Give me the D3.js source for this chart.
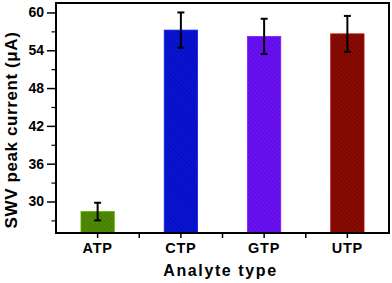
<!DOCTYPE html>
<html>
<head>
<meta charset="utf-8">
<script src="https://cdn.jsdelivr.net/npm/d3@7"></script>
<style>
  body { margin: 0; background: #fff; }
  text { font-family: Arial, "Liberation Sans", sans-serif; font-weight: bold; }
</style>
</head>
<body>
<svg id="chart" width="392" height="283"></svg>
<script>
// chart data
const categories = ["ATP", "CTP", "GTP", "UTP"];
const values = [28.4, 57.2, 56.2, 56.6];
const errors = [1.4, 2.8, 2.8, 2.85];
const yTicks = [30, 36, 42, 48, 54, 60];
const colors = ["#4e8a02", "#0a14d2", "#6a12f4", "#8a0c02"];
const hatch = ["#3a6e00", "#0008a0", "#4c00c8", "#5e0000"];

let margin = {top: 3, right: 3, bottom: 50, left: 56};
let width = 392 - margin.left - margin.right;
let height = 283 - margin.top - margin.bottom;

let svg = d3.select("#chart");

// hatch patterns for the bars
let defs = svg.append("defs");
categories.forEach((c, i) => {
    let p = defs.append("pattern")
        .attr("id", "hatch" + i)
        .attr("patternUnits", "userSpaceOnUse")
        .attr("width", 3).attr("height", 3)
        .attr("patternTransform", "rotate(-45)");
    p.append("rect").attr("width", 3).attr("height", 3).attr("fill", colors[i]);
    p.append("line").attr("x1", 0).attr("y1", 0).attr("x2", 0).attr("y2", 3)
        .attr("stroke", hatch[i]).attr("stroke-width", 1);
});

let chart = svg.append("g")
    .attr("transform", "translate(" + margin.left + "," + margin.top + ")");

let x = d3.scaleBand()
    .domain(categories)
    .range([0, width])
    .paddingInner(0.6)
    .paddingOuter(0.3);

let xBand = d3.scaleBand().domain(categories).range([0, width]);

let y = d3.scaleLinear()
    .domain([25, 61.5])
    .range([height, 0]);

// bars
chart.selectAll(".bar")
    .data(categories)
    .enter().append("rect")
    .attr("x", d => x(d))
    .attr("width", x.bandwidth())
    .attr("y", (d, i) => y(values[i]))
    .attr("height", (d, i) => height - y(values[i]))
    .attr("fill", (d, i) => "url(#hatch" + i + ")")
    .attr("stroke", (d, i) => d3.color(colors[i]).brighter(0.6))
    .attr("stroke-width", 0.8);

// error bars
let eb = chart.selectAll(".err")
    .data(categories)
    .enter().append("g")
    .attr("stroke", "#000")
    .attr("stroke-width", 2);
eb.append("line")
    .attr("x1", d => x(d) + x.bandwidth() / 2)
    .attr("x2", d => x(d) + x.bandwidth() / 2)
    .attr("y1", (d, i) => y(values[i] - errors[i]))
    .attr("y2", (d, i) => y(values[i] + errors[i]));
eb.selectAll(".cap")
    .data((d, i) => [[d, values[i] - errors[i]], [d, values[i] + errors[i]]])
    .enter().append("line")
    .attr("x1", d => x(d[0]) + x.bandwidth() / 2 - 3.5)
    .attr("x2", d => x(d[0]) + x.bandwidth() / 2 + 3.5)
    .attr("y1", d => y(d[1]))
    .attr("y2", d => y(d[1]));

// y axis with minor ticks
let minor = d3.range(27, 61, 3).filter(v => !yTicks.includes(v));
chart.append("g")
    .call(d3.axisLeft(y).tickValues(minor).tickSize(4.5).tickFormat(""))
    .call(g => g.select(".domain").remove())
    .selectAll("line").attr("stroke-width", 1.2);
let yAxis = chart.append("g")
    .call(d3.axisLeft(y).tickValues(yTicks).tickSize(9).tickPadding(3));
yAxis.select(".domain").remove();
yAxis.selectAll("line").attr("stroke-width", 1.5);
yAxis.selectAll("text").attr("font-size", 14).attr("fill", "#000");

// x axis: ticks at category centers and band boundaries
let xAxis = chart.append("g")
    .attr("transform", "translate(0," + height + ")")
    .call(d3.axisBottom(x).tickSize(5).tickPadding(5));
xAxis.select(".domain").remove();
xAxis.selectAll("line").attr("stroke-width", 1.5);
xAxis.selectAll("text").attr("font-size", 14.5).attr("letter-spacing", 0.8).attr("fill", "#000");
chart.append("g")
    .selectAll("line")
    .data(categories.slice(1))
    .enter().append("line")
    .attr("x1", d => xBand(d)).attr("x2", d => xBand(d))
    .attr("y1", height).attr("y2", height + 5)
    .attr("stroke", "#000").attr("stroke-width", 1.5);

// frame
chart.append("rect")
    .attr("width", width).attr("height", height)
    .attr("fill", "none").attr("stroke", "#000").attr("stroke-width", 2);

// axis titles
svg.append("text")
    .attr("x", margin.left + width / 2 - 2)
    .attr("y", 276)
    .attr("text-anchor", "middle")
    .attr("font-size", 16)
    .attr("letter-spacing", 1.6)
    .text("Analyte type");

svg.append("text")
    .attr("transform", "translate(17,130) rotate(-90)")
    .attr("text-anchor", "middle")
    .attr("font-size", 17)
    .attr("letter-spacing", 0.6)
    .text("SWV peak current (\u03bcA)");
</script>
</body>
</html>
